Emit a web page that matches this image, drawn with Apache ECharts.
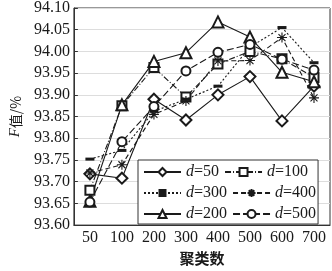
<!DOCTYPE html>
<html>
<head>
<meta charset="utf-8">
<script src="https://cdn.jsdelivr.net/npm/echarts@6/dist/echarts.min.js"></script>
<style>
html, body { margin: 0; padding: 0; background: #fff; }
#chart { width: 332px; height: 271px; }
</style>
</head>
<body>
<div id="chart"></div>
<script>
const categories = ['50', '100', '200', '300', '400', '500', '600', '700'];
const d50 = [93.718, 93.708, 93.890, 93.842, 93.900, 93.942, 93.840, 93.920];
const d100 = [93.680, 93.875, 93.963, 93.895, 93.971, 94.000, 93.983, 93.940];
const d300 = [93.752, 93.772, 93.862, 93.890, 93.920, 94.010, 94.055, 93.974];
const d400 = [93.720, 93.739, 93.855, 93.886, 93.978, 93.979, 94.032, 93.893];
const d200 = [93.655, 93.877, 93.977, 93.997, 94.068, 94.033, 93.952, 93.930];
const d500 = [93.653, 93.792, 93.873, 93.955, 93.998, 94.016, 93.982, 93.957];
const legendNames = ['d=50', 'd=100', 'd=300', 'd=400', 'd=200', 'd=500'];

const serif = "'Liberation Serif', 'DejaVu Serif', serif";
const ink = '#1a1a1a';

// star and bar markers drawn as paths
const starPath = 'path://M0,5 L10,5 M5,0 L5,10 M1.5,1.5 L8.5,8.5 M8.5,1.5 L1.5,8.5';
const barPath = 'path://M0,0 L10,0 L10,3 L0,3 Z';

function makeSeries(name, data, symbol, size, lineType, item) {
	return {
		name: name,
		type: 'line',
		data: data,
		symbol: symbol,
		symbolSize: size,
		symbolKeepAspect: false,
		lineStyle: { color: ink, width: 1.1, type: lineType },
		itemStyle: item || { color: ink, borderColor: ink, borderWidth: 1 },
		emphasis: { disabled: true },
		animation: false
	};
}

let mychart = echarts.init(document.getElementById('chart'));
let option = {
	grid: {
		left: 67, right: 2, top: 6, bottom: 38,
		show: true, borderColor: '#333', borderWidth: 1
	},
	legend: {
		data: legendNames,
		left: 138, top: 160,
		width: 186,
		padding: [4, 2, 2, 5],
		itemGap: 5,
		itemWidth: 37,
		itemHeight: 10,
		borderColor: '#333',
		borderWidth: 1,
		backgroundColor: '#fff',
		formatter: function (n) {
			// left column gets a fixed-width label so the right column lines up
			let left = legendNames.indexOf(n) % 2 === 0;
			return '{i|d}{' + (left ? 'a' : 'b') + '|' + n.slice(1) + '}';
		},
		textStyle: {
			fontFamily: serif, fontSize: 16, color: ink,
			rich: {
				i: { fontStyle: 'italic', fontFamily: serif, fontSize: 16, width: 8 },
				a: { fontFamily: serif, fontSize: 16, width: 39 },
				b: { fontFamily: serif, fontSize: 16, width: 34 }
			}
		}
	},
	xAxis: {
		type: 'category',
		data: categories,
		boundaryGap: true,
		name: '聚类数',
		nameLocation: 'middle',
		nameGap: 17,
		nameTextStyle: { fontFamily: "'Noto Sans CJK SC'", fontSize: 15, fontWeight: 'bold', color: ink, verticalAlign: 'top' },
		axisLine: { lineStyle: { color: '#333' } },
		axisTick: { inside: true, length: 4, lineStyle: { color: '#333' } },
		axisLabel: { fontFamily: serif, fontSize: 16, color: ink, margin: 5 },
		splitLine: { show: false }
	},
	yAxis: {
		type: 'value',
		min: 93.6, max: 94.1, interval: 0.05,
		name: '{i|F}值/%',
		nameLocation: 'middle',
		nameGap: 48,
		nameRotate: 90,
		nameTextStyle: {
			fontFamily: "'Noto Sans CJK SC'", fontSize: 14, color: ink,
			rich: { i: { fontStyle: 'italic', fontFamily: serif, fontSize: 15 } }
		},
		axisLine: { show: true, lineStyle: { color: '#333' } },
		axisTick: { show: true, inside: true, length: 4, lineStyle: { color: '#333' } },
		axisLabel: { fontFamily: serif, fontSize: 16, color: ink, margin: 4, formatter: function (v) { return v.toFixed(2); } },
		splitLine: { lineStyle: { color: '#ddd', width: 1 } }
	},
	series: [
		makeSeries('d=50', d50, 'emptyDiamond', 11, 'solid'),
		makeSeries('d=100', d100, 'emptyRect', 9, [6, 2, 1, 2]),
		makeSeries('d=300', d300, barPath, [9, 3], [2, 2], { color: ink, borderWidth: 0 }),
		makeSeries('d=400', d400, starPath, 10, [5, 3], { color: 'none', borderColor: ink, borderWidth: 1.1 }),
		makeSeries('d=200', d200, 'emptyTriangle', 11, 'solid'),
		makeSeries('d=500', d500, 'emptyCircle', 9, [7, 3])
	]
};
mychart.setOption(option);
</script>
</body>
</html>
